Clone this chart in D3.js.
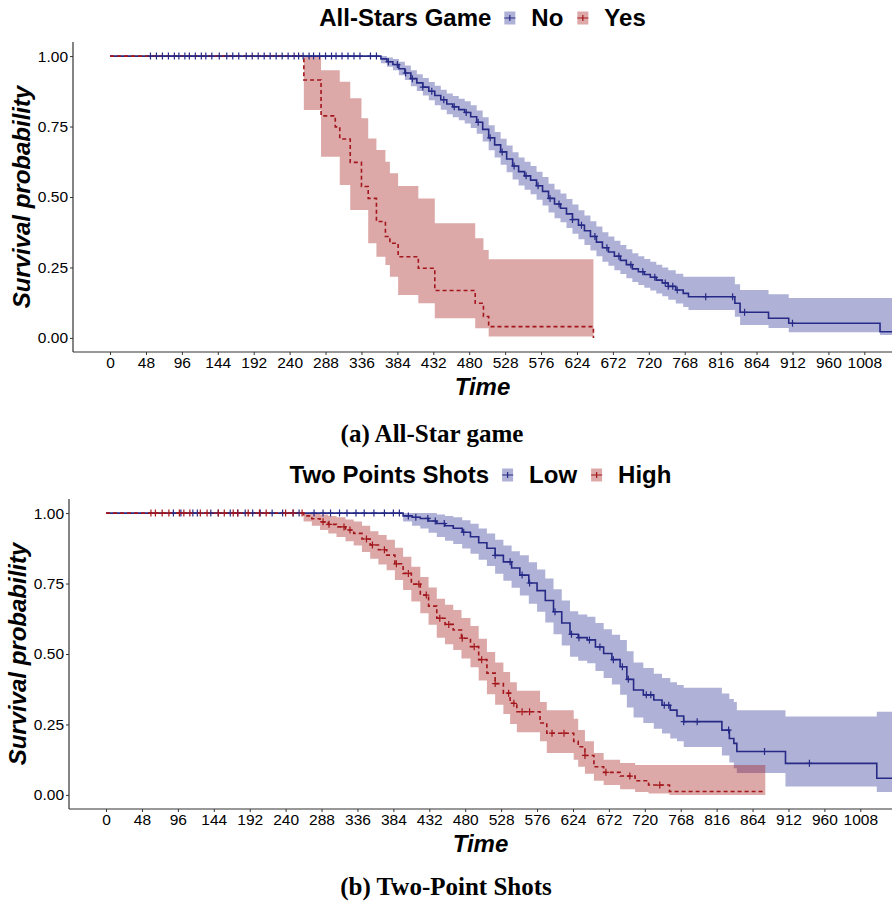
<!DOCTYPE html>
<html>
<head>
<meta charset="utf-8">
<script src="https://cdn.jsdelivr.net/npm/d3@7/dist/d3.min.js"></script>
<style>
  body { margin: 0; background: #fff; }
  svg { display: block; font-family: "Liberation Sans", Arial, sans-serif; }
</style>
</head>
<body>
<svg id="chart" width="892" height="903"></svg>
<script>
// ---- tick labels ----
const xTicks = [0, 48, 96, 144, 192, 240, 288, 336, 384, 432, 480, 528, 576, 624, 672, 720, 768, 816, 864, 912, 960, 1008];
const yTicks = [0, 0.25, 0.5, 0.75, 1];

// ---- (a) All-Stars Game : No ----
const noTime  = [0, 362, 370, 378, 386, 394, 402, 410, 418, 426, 434, 442, 450, 458, 466, 474, 482, 490, 498, 506, 514, 522, 530, 538, 546, 554, 562, 570, 578, 586, 594, 602, 610, 618, 626, 634, 642, 650, 658, 666, 674, 682, 690, 698, 706, 714, 722, 730, 738, 746, 756, 766, 773, 835, 842, 880, 907, 1029];
const noSurv  = [1, 0.99, 0.98, 0.97, 0.955, 0.94, 0.92, 0.905, 0.89, 0.875, 0.86, 0.845, 0.83, 0.82, 0.81, 0.80, 0.785, 0.765, 0.74, 0.71, 0.685, 0.66, 0.635, 0.61, 0.59, 0.575, 0.56, 0.54, 0.52, 0.495, 0.475, 0.46, 0.44, 0.42, 0.40, 0.38, 0.36, 0.34, 0.32, 0.305, 0.29, 0.275, 0.26, 0.245, 0.235, 0.225, 0.215, 0.205, 0.195, 0.183, 0.17, 0.158, 0.146, 0.123, 0.091, 0.070, 0.052, 0.022];
const noLower = [1, 0.975, 0.962, 0.95, 0.932, 0.915, 0.893, 0.876, 0.86, 0.843, 0.826, 0.81, 0.794, 0.783, 0.772, 0.761, 0.745, 0.724, 0.697, 0.666, 0.64, 0.614, 0.588, 0.562, 0.541, 0.526, 0.51, 0.49, 0.47, 0.445, 0.425, 0.41, 0.39, 0.37, 0.35, 0.33, 0.31, 0.29, 0.27, 0.256, 0.24, 0.227, 0.212, 0.198, 0.188, 0.178, 0.168, 0.158, 0.148, 0.135, 0.122, 0.11, 0.099, 0.075, 0.046, 0.035, 0.02, 0.01];
const noUpper = [1, 1, 0.995, 0.99, 0.98, 0.967, 0.95, 0.936, 0.922, 0.908, 0.895, 0.881, 0.867, 0.858, 0.849, 0.84, 0.826, 0.807, 0.783, 0.755, 0.731, 0.707, 0.683, 0.659, 0.64, 0.625, 0.61, 0.59, 0.571, 0.547, 0.527, 0.512, 0.493, 0.473, 0.453, 0.434, 0.414, 0.395, 0.375, 0.36, 0.345, 0.33, 0.315, 0.30, 0.29, 0.28, 0.27, 0.26, 0.25, 0.24, 0.228, 0.217, 0.217, 0.19, 0.17, 0.155, 0.142, 0.142];
const noCensor = [54, 62, 70, 78, 86, 92, 100, 106, 114, 122, 128, 136, 146, 156, 164, 172, 182, 190, 198, 206, 214, 222, 230, 238, 246, 252, 258, 266, 272, 280, 288, 296, 302, 310, 318, 326, 334, 348, 356, 372, 384, 395, 404, 418, 430, 446, 460, 476, 492, 508, 524, 540, 556, 572, 588, 600, 618, 630, 648, 664, 680, 696, 712, 728, 742, 746, 752, 758, 796, 832, 848, 912];

// ---- (a) All-Stars Game : Yes ----
const yesTime  = [0, 259, 282, 301, 307, 321, 336, 345, 356, 368, 374, 385, 412, 434, 488, 499, 506, 646];
const yesSurv  = [1, 0.915, 0.788, 0.749, 0.706, 0.623, 0.537, 0.495, 0.413, 0.36, 0.336, 0.288, 0.247, 0.168, 0.123, 0.076, 0.040, 0];
const yesLower = [1, 0.809, 0.643, 0.643, 0.543, 0.454, 0.454, 0.336, 0.288, 0.259, 0.217, 0.152, 0.123, 0.070, 0.034, 0.034, 0.005, 0];
const yesUpper = [1, 1, 0.95, 0.95, 0.909, 0.85, 0.779, 0.708, 0.667, 0.625, 0.584, 0.539, 0.495, 0.407, 0.354, 0.312, 0.279, 0];
const yesCensor = [];

// ---- (b) Two Points Shots : Low ----
const lowTime  = [0, 397, 409, 420, 431, 442, 453, 464, 476, 487, 498, 509, 520, 531, 542, 553, 565, 576, 587, 598, 609, 620, 631, 643, 654, 665, 676, 687, 696, 705, 718, 732, 743, 754, 763, 772, 823, 833, 839, 843, 908, 1030];
const lowSurv  = [1, 0.99, 0.985, 0.981, 0.972, 0.963, 0.955, 0.946, 0.932, 0.916, 0.895, 0.875, 0.85, 0.827, 0.805, 0.78, 0.752, 0.725, 0.69, 0.65, 0.61, 0.57, 0.558, 0.55, 0.525, 0.502, 0.48, 0.455, 0.41, 0.372, 0.355, 0.337, 0.318, 0.301, 0.28, 0.26, 0.23, 0.2, 0.183, 0.154, 0.112, 0.059];
const lowLower = [1, 0.97, 0.955, 0.945, 0.93, 0.915, 0.902, 0.89, 0.874, 0.856, 0.834, 0.812, 0.785, 0.76, 0.735, 0.708, 0.678, 0.65, 0.612, 0.57, 0.53, 0.49, 0.476, 0.467, 0.44, 0.415, 0.392, 0.355, 0.31, 0.275, 0.255, 0.235, 0.218, 0.2, 0.19, 0.17, 0.14, 0.115, 0.095, 0.078, 0.03, 0.01];
const lowUpper = [1, 1, 1, 1, 1, 0.995, 0.99, 0.985, 0.975, 0.962, 0.945, 0.928, 0.905, 0.885, 0.865, 0.85, 0.826, 0.8, 0.768, 0.73, 0.69, 0.652, 0.64, 0.632, 0.61, 0.588, 0.568, 0.55, 0.51, 0.47, 0.45, 0.43, 0.415, 0.4, 0.39, 0.38, 0.36, 0.34, 0.33, 0.30, 0.278, 0.295];
const lowCensor = [90, 100, 116, 122, 140, 150, 166, 176, 186, 196, 206, 222, 236, 250, 258, 278, 290, 300, 312, 322, 334, 345, 358, 372, 384, 392, 404, 414, 430, 440, 452, 478, 520, 540, 556, 566, 600, 622, 632, 646, 660, 678, 690, 698, 722, 728, 746, 752, 772, 790, 832, 880, 940];

// ---- (b) Two Points Shots : High ----
const highTime  = [0, 264, 275, 286, 297, 308, 320, 331, 342, 353, 364, 375, 386, 397, 408, 420, 431, 442, 453, 464, 475, 487, 498, 509, 520, 531, 540, 549, 580, 589, 625, 631, 640, 652, 665, 687, 707, 725, 753];
const highSurv  = [1, 0.99, 0.98, 0.969, 0.96, 0.951, 0.94, 0.928, 0.908, 0.887, 0.87, 0.851, 0.82, 0.786, 0.748, 0.709, 0.67, 0.627, 0.605, 0.585, 0.556, 0.526, 0.48, 0.432, 0.395, 0.361, 0.325, 0.295, 0.255, 0.219, 0.19, 0.171, 0.14, 0.10, 0.08, 0.067, 0.05, 0.035, 0.012];
const highLower = [1, 0.97, 0.955, 0.94, 0.928, 0.915, 0.9, 0.885, 0.862, 0.838, 0.818, 0.797, 0.763, 0.727, 0.686, 0.645, 0.604, 0.558, 0.535, 0.514, 0.484, 0.453, 0.406, 0.357, 0.32, 0.287, 0.252, 0.222, 0.19, 0.149, 0.125, 0.10, 0.075, 0.05, 0.035, 0.02, 0.01, 0.005, 0];
const highUpper = [1, 1, 1, 0.995, 0.99, 0.985, 0.977, 0.97, 0.955, 0.936, 0.922, 0.905, 0.877, 0.845, 0.81, 0.773, 0.736, 0.696, 0.675, 0.656, 0.628, 0.599, 0.554, 0.507, 0.47, 0.436, 0.40, 0.37, 0.33, 0.30, 0.27, 0.23, 0.19, 0.149, 0.125, 0.113, 0.106, 0.106, 0.106];
const highCensor = [60, 66, 75, 84, 98, 104, 112, 126, 135, 150, 158, 170, 176, 190, 205, 214, 240, 250, 262, 290, 298, 318, 326, 348, 356, 372, 388, 404, 418, 428, 446, 458, 476, 492, 502, 520, 538, 545, 556, 566, 596, 612, 640, 668, 700, 740];

// ---- colours ----
const navy = "#262A86", navyFill = "#2E3192";
const red = "#A3161B", redFill = "#A31A1A";

const svg = d3.select("#chart");

function makeSeries(time, surv, lower, upper, end) {
  const pts = time.map((t, i) => ({ t, s: surv[i], lo: lower[i], hi: upper[i] }));
  const last = pts[pts.length - 1];
  if (end > last.t) pts.push({ t: end, s: last.s, lo: last.lo, hi: last.hi });
  return pts;
}

function drawPanel(p) {
  const g = svg.append("g");
  const x = d3.scaleLinear().domain([-49.5, 1045]).range([p.left, p.left + 819]);
  const y = d3.scaleLinear().domain([-0.05, 1.05]).range([p.bottom, p.top]);

  const clipId = "clip" + p.id;
  svg.append("clipPath").attr("id", clipId)
    .append("rect").attr("x", p.left).attr("y", p.top - 5)
    .attr("width", 892 - p.left).attr("height", p.bottom - p.top + 5);

  const plot = g.append("g").attr("clip-path", `url(#${clipId})`);

  const area = d3.area().curve(d3.curveStepAfter)
    .x(d => x(d.t)).y0(d => y(d.lo)).y1(d => y(d.hi));
  const line = d3.line().curve(d3.curveStepAfter)
    .x(d => x(d.t)).y(d => y(d.s));

  p.series.forEach(s => {
    plot.append("path").datum(s.pts).attr("d", area)
      .attr("fill", s.fill).attr("fill-opacity", 0.38).attr("stroke", "none");
  });
  p.series.forEach(s => {
    plot.append("path").datum(s.pts).attr("d", line)
      .attr("fill", "none").attr("stroke", s.color).attr("stroke-width", 1.6)
      .attr("stroke-dasharray", s.dash || null);
  });
  p.series.forEach(s => {
    const times = s.pts.map(d => d.t);
    s.censor.forEach(c => {
      const i = Math.max(0, d3.bisectRight(times, c) - 1);
      const cx = x(c), cy = y(s.pts[i].s);
      plot.append("path")
        .attr("d", `M${cx - 3},${cy}H${cx + 3}M${cx},${cy - 3.5}V${cy + 3.5}`)
        .attr("stroke", s.color).attr("stroke-width", 1.2);
    });
  });

  // axes
  const xAxis = g.append("g").attr("transform", `translate(0,${p.bottom})`)
    .call(d3.axisBottom(x).tickValues(xTicks).tickFormat(d3.format("d"))
      .tickSize(3).tickPadding(2).tickSizeOuter(0));
  const yAxis = g.append("g").attr("transform", `translate(${p.left},0)`)
    .call(d3.axisLeft(y).tickValues(yTicks).tickFormat(d3.format(".2f"))
      .tickSize(3).tickPadding(2).tickSizeOuter(0));
  [xAxis, yAxis].forEach(a => {
    a.select(".domain").remove();
    a.selectAll("line").attr("stroke", "#333");
    a.selectAll("text").attr("fill", "#000").style("font-size", "15.5px")
      .style("font-family", "'Liberation Sans', Arial, sans-serif");
  });
  g.append("line").attr("x1", p.left).attr("x2", 892).attr("y1", p.bottom).attr("y2", p.bottom)
    .attr("stroke", "#333").attr("stroke-width", 1.2);
  g.append("line").attr("x1", p.left).attr("x2", p.left).attr("y1", p.top).attr("y2", p.bottom)
    .attr("stroke", "#333").attr("stroke-width", 1.2);

  // axis titles
  const cx = (p.left + 892) / 2;
  g.append("text").attr("x", cx).attr("y", p.bottom + 43)
    .attr("text-anchor", "middle").style("font-size", "24px")
    .style("font-weight", "bold").style("font-style", "italic").text("Time");
  g.append("text")
    .attr("transform", `translate(${p.left - 51},${(p.top + p.bottom) / 2}) rotate(-90)`)
    .attr("text-anchor", "middle").attr("dy", "0.35em").style("font-size", "24px")
    .style("font-weight", "bold").style("font-style", "italic").text("Survival probability");

  // legend
  const lg = g.append("g");
  let cursor = 0;
  const ly = p.top - 24;
  const title = lg.append("text").attr("x", cursor).attr("y", ly).attr("dy", "0.35em")
    .style("font-size", "24px").style("font-weight", "bold").text(p.legendTitle);
  cursor += title.node().getComputedTextLength() + 13;
  p.series.forEach(s => {
    lg.append("rect").attr("x", cursor).attr("y", ly - 6.5).attr("width", 11).attr("height", 13)
      .attr("fill", s.fill).attr("fill-opacity", 0.38);
    lg.append("path").attr("d", `M${cursor},${ly}H${cursor + 11}M${cursor + 5.5},${ly - 3}V${ly + 3}`)
      .attr("stroke", s.color).attr("stroke-width", 1.2);
    cursor += 11 + 16;
    const t = lg.append("text").attr("x", cursor).attr("y", ly).attr("dy", "0.35em")
      .style("font-size", "24px").style("font-weight", "bold").text(s.name);
    cursor += t.node().getComputedTextLength() + 14;
  });
  cursor -= 14;
  lg.attr("transform", `translate(${cx - cursor / 2},0)`);

  // caption
  g.append("text").attr("x", p.captionX).attr("y", p.captionY).attr("text-anchor", "middle")
    .style("font-family", "'Liberation Serif', 'Times New Roman', serif")
    .style("font-size", "25px").style("font-weight", "bold").text(p.caption);
}

drawPanel({
  id: "a", left: 73, top: 42, bottom: 352,
  legendTitle: "All-Stars Game", caption: "(a) All-Star game", captionX: 432, captionY: 442,
  series: [
    { name: "No", color: navy, fill: navyFill, censor: noCensor,
      pts: makeSeries(noTime, noSurv, noLower, noUpper, 1070) },
    { name: "Yes", color: red, fill: redFill, censor: yesCensor, dash: "4,3",
      pts: makeSeries(yesTime, yesSurv, yesLower, yesUpper, 646) }
  ]
});

drawPanel({
  id: "b", left: 69, top: 499, bottom: 809,
  legendTitle: "Two Points Shots", caption: "(b) Two-Point Shots", captionX: 446, captionY: 895,
  series: [
    { name: "Low", color: navy, fill: navyFill, censor: lowCensor,
      pts: makeSeries(lowTime, lowSurv, lowLower, lowUpper, 1070) },
    { name: "High", color: red, fill: redFill, censor: highCensor, dash: "4,3",
      pts: makeSeries(highTime, highSurv, highLower, highUpper, 881) }
  ]
});
</script>
</body>
</html>
